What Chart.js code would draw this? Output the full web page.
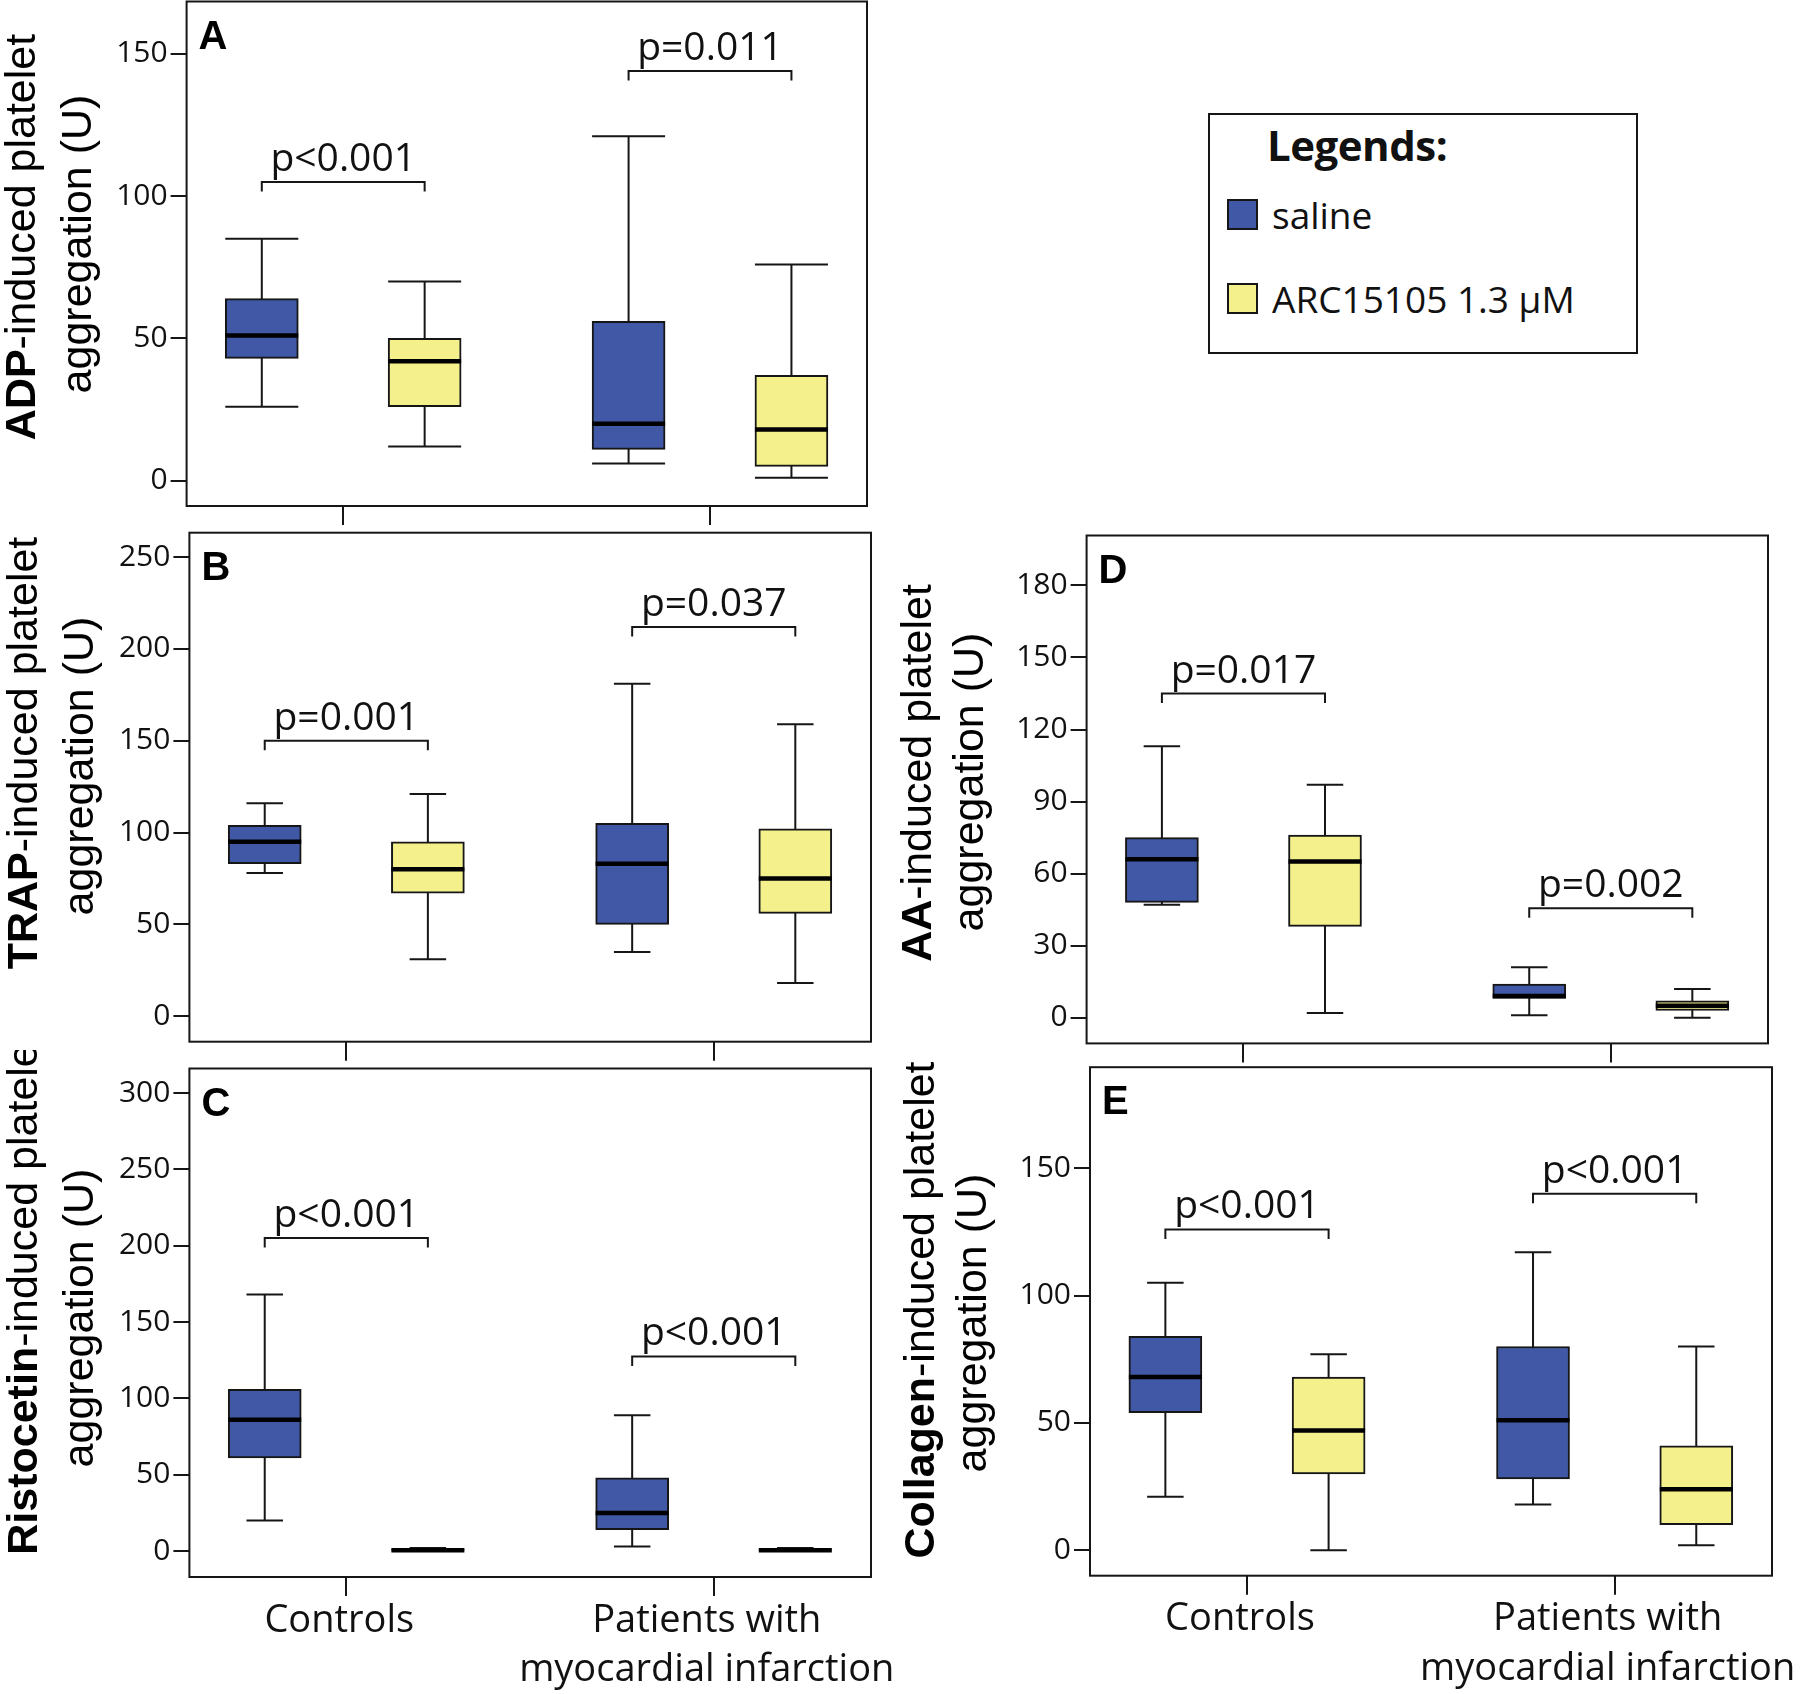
<!DOCTYPE html>
<html>
<head>
<meta charset="utf-8">
<script src="https://cdn.jsdelivr.net/npm/chart.js@4.4.1/dist/chart.umd.min.js"></script>
<style>
  html, body { margin: 0; padding: 0; background: #fff; }
  body { width: 1800px; height: 1694px; position: relative; overflow: hidden; font-family: 'Open Sans', sans-serif; color: #111; }
  canvas { position: absolute; }
  .leg { position: absolute; white-space: nowrap; line-height: 1; }
</style>
</head>
<body>
<canvas id="panelA"></canvas>
<canvas id="panelB"></canvas>
<canvas id="panelC"></canvas>
<canvas id="panelD"></canvas>
<canvas id="panelE"></canvas>
<div id="legend"></div>
<script>
// groups on the x axis
const categories = ['Controls', ['Patients with', 'myocardial infarction']];
const seriesNames = ['saline', 'ARC15105 1.3 µM'];

// each box: [min, q1, median, q3, max]  -> [Controls, Patients with MI]
const adpSaline = [[26, 43, 51, 64, 85], [6, 11, 20, 56, 121]];
const adpArc    = [[12, 26, 42, 50, 70], [1, 5, 18, 37, 76]];
const trapSaline = [[78, 83, 95, 104, 116], [35, 50, 83, 105, 181]];
const trapArc    = [[31, 67, 80, 95, 121], [18, 56, 75, 102, 159]];
const ristoSaline = [[20, 61, 86, 106, 168], [3, 14, 25, 48, 89]];
const ristoArc    = [[0, 0, 0.5, 1, 2], [0, 0, 0.5, 1, 2]];
const aaSaline = [[47, 48, 66, 75, 113], [1, 8, 9, 14, 21]];
const aaArc    = [[2, 38, 65, 76, 97], [0, 3, 5, 7, 12]];
const collSaline = [[21, 54, 68, 84, 105], [18, 28, 51, 80, 117]];
const collArc    = [[0, 30, 47, 68, 77], [2, 10, 24, 41, 80]];

// y tick labels
const adpTicks = [0, 50, 100, 150];
const trapTicks = [0, 50, 100, 150, 200, 250];
const ristoTicks = [0, 50, 100, 150, 200, 250, 300];
const aaTicks = [0, 30, 60, 90, 120, 150, 180];
const collTicks = [0, 50, 100, 150];

// significance labels and the height (U) of their brackets
const adpP = ['p<0.001', 'p=0.011'];     const adpBracket = [105, 144];
const trapP = ['p=0.001', 'p=0.037'];    const trapBracket = [150, 212];
const ristoP = ['p<0.001', 'p<0.001'];   const ristoBracket = [205, 127.5];
const aaP = ['p=0.017', 'p=0.002'];      const aaBracket = [135, 45.6];
const collP = ['p<0.001', 'p<0.001'];    const collBracket = [126, 140];

const BLUE = '#4158a6';
const YELLOW = '#f4f08c';
const INK = '#161616';
const GROUP_OFF = 0.222;   // x offset of each box from its group tick
const BOX_W = 73;          // px
const X_MIN = -0.427, X_MAX = 1.428;

const panels = [
  { id: 'panelA', letter: 'A', agent: 'ADP', saline: adpSaline, arc: adpArc, ticks: adpTicks, p: adpP, bracket: adpBracket,
    yMin: -8.9, yMax: 168.4, canvas: [0, 0, 920, 530], frame: [186.6, 1.5, 867, 506], titleY: [237, 244], titleX: [-152, -96], labels: false, cap: 1 },
  { id: 'panelB', letter: 'B', agent: 'TRAP', saline: trapSaline, arc: trapArc, ticks: trapTicks, p: trapP, bracket: trapBracket,
    yMin: -13.9, yMax: 263.3, canvas: [0, 520, 920, 545], frame: [189.4, 532.7, 871, 1041.7], titleY: [753, 766], titleX: [-152, -96], labels: false, cap: 0.5 },
  { id: 'panelC', letter: 'C', agent: 'Ristocetin', saline: ristoSaline, arc: ristoArc, ticks: ristoTicks, p: ristoP, bracket: ristoBracket,
    yMin: -17, yMax: 316.1, canvas: [0, 1050, 920, 644], frame: [189.4, 1068.5, 871, 1577], titleY: [1293, 1318], titleX: [-152, -96], labels: true, cap: 0.5 },
  { id: 'panelD', letter: 'D', agent: 'AA', saline: aaSaline, arc: aaArc, ticks: aaTicks, p: aaP, bracket: aaBracket,
    yMin: -10.7, yMax: 200.8, canvas: [880, 520, 920, 545], frame: [1086.6, 535.5, 1768, 1043.4], titleY: [773, 782], titleX: [-156, -104], labels: false, cap: 0.5 },
  { id: 'panelE', letter: 'E', agent: 'Collagen', saline: collSaline, arc: collArc, ticks: collTicks, p: collP, bracket: collBracket,
    yMin: -10, yMax: 189.7, canvas: [880, 1050, 920, 644], frame: [1090, 1067.2, 1772, 1575.7], titleY: [1310, 1323], titleX: [-156, -104], labels: true, cap: 0.5 }
];

Chart.defaults.font.family = "'Open Sans', sans-serif";
Chart.defaults.color = '#111';

function boxPlugin(p) {
  return {
    id: 'boxPlot_' + p.letter,
    beforeDatasetsDraw(chart) {
      const xs = chart.scales.x, ys = chart.scales.y, ctx = chart.ctx;
      ctx.save();
      ctx.strokeStyle = INK;
      ctx.lineWidth = 2;
      [p.saline, p.arc].forEach((series, k) => {
        series.forEach((s, i) => {
          const cx = xs.getPixelForValue(i + (k ? GROUP_OFF : -GROUP_OFF));
          const half = BOX_W / 2 * p.cap;
          const yLo = ys.getPixelForValue(s[0]), yHi = ys.getPixelForValue(s[4]);
          ctx.beginPath();
          ctx.moveTo(cx, yLo); ctx.lineTo(cx, yHi);
          ctx.moveTo(cx - half, yLo); ctx.lineTo(cx + half, yLo);
          ctx.moveTo(cx - half, yHi); ctx.lineTo(cx + half, yHi);
          ctx.stroke();
        });
      });
      ctx.restore();
    },
    afterDatasetsDraw(chart) {
      const xs = chart.scales.x, ys = chart.scales.y, ctx = chart.ctx;
      ctx.save();
      // medians
      ctx.strokeStyle = '#000';
      ctx.lineWidth = 4.5;
      [p.saline, p.arc].forEach((series, k) => {
        series.forEach((s, i) => {
          const cx = xs.getPixelForValue(i + (k ? GROUP_OFF : -GROUP_OFF));
          const y = ys.getPixelForValue(s[2]);
          ctx.beginPath();
          ctx.moveTo(cx - BOX_W / 2, y); ctx.lineTo(cx + BOX_W / 2, y);
          ctx.stroke();
        });
      });
      // brackets + p values
      ctx.lineWidth = 2;
      ctx.strokeStyle = INK;
      ctx.fillStyle = '#111';
      ctx.font = "39px 'Open Sans'";
      ctx.textAlign = 'center';
      ctx.textBaseline = 'alphabetic';
      p.bracket.forEach((v, i) => {
        const x1 = xs.getPixelForValue(i - GROUP_OFF), x2 = xs.getPixelForValue(i + GROUP_OFF);
        const y = ys.getPixelForValue(v);
        ctx.beginPath();
        ctx.moveTo(x1, y + 9.5); ctx.lineTo(x1, y); ctx.lineTo(x2, y); ctx.lineTo(x2, y + 9.5);
        ctx.stroke();
        ctx.fillText(p.p[i], xs.getPixelForValue(i), y - 11);
      });
      ctx.restore();
    },
    afterDraw(chart) {
      const a = chart.chartArea, ctx = chart.ctx;
      const [cx, cy] = p.canvas;
      ctx.save();
      ctx.strokeStyle = INK;
      ctx.lineWidth = 2;
      ctx.strokeRect(a.left, a.top, a.right - a.left, a.bottom - a.top);
      // panel letter
      ctx.fillStyle = '#000';
      ctx.font = "bold 40px 'Liberation Sans'";
      ctx.textAlign = 'left';
      ctx.textBaseline = 'alphabetic';
      ctx.fillText(p.letter, a.left + 12, a.top + 47);
      // rotated y title, first word bold
      const lines = [
        [[p.agent, true], ['-induced platelet', false]],
        [['aggregation (U)', false]]
      ];
      lines.forEach((parts, li) => {
        const bx = p.frame[0] - cx + p.titleX[li];
        const by = p.titleY[li] - cy;
        let total = 0;
        parts.forEach(([t, b]) => {
          ctx.font = (b ? 'bold ' : '') + "43px 'Liberation Sans'";
          total += ctx.measureText(t).width;
        });
        ctx.save();
        ctx.translate(bx, by);
        ctx.rotate(-Math.PI / 2);
        let pos = -total / 2;
        parts.forEach(([t, b]) => {
          ctx.font = (b ? 'bold ' : '') + "43px 'Liberation Sans'";
          ctx.fillText(t, pos, 0);
          pos += ctx.measureText(t).width;
        });
        ctx.restore();
      });
      ctx.restore();
    }
  };
}

function makePanel(p) {
  const cv = document.getElementById(p.id);
  const [cx, cy, cw, ch] = p.canvas;
  const [fl, ft, fr, fb] = p.frame;
  cv.width = cw; cv.height = ch;
  Object.assign(cv.style, { left: cx + 'px', top: cy + 'px', width: cw + 'px', height: ch + 'px' });
  const yW = 100;
  const xH = p.labels ? 117 : 20;

  const boxData = (series, sign) => series.map((s, i) => ({ x: i + sign * GROUP_OFF, y: [s[1], s[3]] }));
  const common = { borderColor: INK, borderWidth: 2, borderSkipped: false, barThickness: BOX_W, grouped: false };

  new Chart(cv, {
    type: 'bar',
    data: {
      datasets: [
        Object.assign({ label: seriesNames[0], data: boxData(p.saline, -1), backgroundColor: BLUE }, common),
        Object.assign({ label: seriesNames[1], data: boxData(p.arc, 1), backgroundColor: YELLOW }, common)
      ]
    },
    options: {
      responsive: false,
      animation: false,
      devicePixelRatio: 1,
      layout: { padding: { left: fl - cx - yW, top: ft - cy, right: cx + cw - fr, bottom: cy + ch - fb - xH } },
      plugins: { legend: { display: false }, tooltip: { enabled: false } },
      scales: {
        x: {
          type: 'linear',
          offset: false,
          min: X_MIN, max: X_MAX,
          afterBuildTicks: s => { s.ticks = [{ value: 0 }, { value: 1 }]; },
          afterFit: s => { s.height = xH; s.paddingLeft = 0; s.paddingRight = 0; },
          grid: { offset: false, drawOnChartArea: false, drawTicks: true, tickLength: 19, color: INK, lineWidth: 2 },
          border: { display: false },
          ticks: {
            display: p.labels,
            autoSkip: false, maxRotation: 0, padding: 0, labelOffset: -7,
            font: { size: 38, lineHeight: 1.3 },
            color: '#111',
            callback: (v, i) => categories[i]
          }
        },
        y: {
          type: 'linear',
          min: p.yMin, max: p.yMax,
          afterBuildTicks: s => { s.ticks = p.ticks.map(v => ({ value: v })); },
          afterFit: s => { s.width = yW; s.paddingTop = 0; s.paddingBottom = 0; },
          grid: { drawOnChartArea: false, drawTicks: true, tickLength: 16, color: INK, lineWidth: 2 },
          border: { display: false },
          ticks: { font: { size: 30 }, padding: 3, color: '#111' }
        }
      }
    },
    plugins: [boxPlugin(p)]
  });
}

panels.forEach(makePanel);

// legend box (HTML)
(function () {
  const lg = document.getElementById('legend');
  const add = (css, text) => {
    const d = document.createElement('div');
    d.className = 'leg';
    Object.assign(d.style, css);
    if (text) d.textContent = text;
    lg.appendChild(d);
    return d;
  };
  add({ left: '1208px', top: '113px', width: '430px', height: '241px', border: '2px solid ' + INK, boxSizing: 'border-box' });
  add({ left: '1267px', top: '124px', fontSize: '42px', fontWeight: '700', letterSpacing: '-0.5px' }, 'Legends:');
  const swatch = [BLUE, YELLOW];
  const rowTop = [199, 283];
  seriesNames.forEach((name, i) => {
    add({ left: '1227px', top: rowTop[i] + 'px', width: '31px', height: '31px', background: swatch[i], border: '2px solid ' + INK, boxSizing: 'border-box' });
    add({ left: '1272px', top: (rowTop[i] - 3) + 'px', fontSize: '37px' }, name);
  });
})();
</script>
</body>
</html>
